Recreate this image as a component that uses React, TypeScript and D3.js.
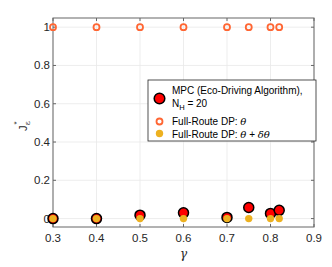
import React from "react";
import * as d3 from "d3";

const gammas = [0.3, 0.4, 0.5, 0.6, 0.7, 0.75, 0.8, 0.82];
const mpcValues = [0.0, 0.0, 0.018, 0.03, 0.006, 0.058, 0.027, 0.043];
const dpTheta = [1, 1, 1, 1, 1, 1, 1, 1];
const dpThetaDelta = [0, 0, 0, 0, 0, 0, 0, 0];
const xTicks = [0.3, 0.4, 0.5, 0.6, 0.7, 0.8, 0.9];
const yTicks = [0, 0.2, 0.4, 0.6, 0.8, 1];

const W = 332, H = 267;
const L = 53, R = 314, T = 18, B = 227;

export default function App() {
  const x = d3.scaleLinear().domain([0.3, 0.9]).range([L, R]);
  const y = d3.scaleLinear().domain([-0.044, 1.048]).range([B, T]);
  const font = "Liberation Sans, Arial, Helvetica, sans-serif";
  const axisColor = "#666";
  const red = "#ff0000";
  const orange = "#ff6633";
  const yellow = "#edb120";
  return (
    <svg width={W} height={H} style={{ position: "absolute", left: 0, top: 0, background: "#fff" }}>
      <rect x={0} y={0} width={W} height={H} fill="#fff" />
      {/* grid */}
      {xTicks.map((t) => (
        <line key={"gx" + t} x1={x(t)} x2={x(t)} y1={T} y2={B} stroke="#e8e8e8" strokeWidth={0.8} />
      ))}
      {yTicks.map((t) => (
        <line key={"gy" + t} x1={L} x2={R} y1={y(t)} y2={y(t)} stroke="#e8e8e8" strokeWidth={0.8} />
      ))}
      {/* box */}
      <rect x={L} y={T} width={R - L} height={B - T} fill="none" stroke={axisColor} strokeWidth={1} />
      {/* ticks */}
      {xTicks.map((t) => (
        <g key={"tx" + t}>
          <line x1={x(t)} x2={x(t)} y1={B} y2={B - 3} stroke={axisColor} />
          <line x1={x(t)} x2={x(t)} y1={T} y2={T + 3} stroke={axisColor} />
          <text x={x(t)} y={B + 15} textAnchor="middle" fontFamily={font} fontSize={11.5} fill="#262626">
            {t.toFixed(1)}
          </text>
        </g>
      ))}
      {yTicks.map((t) => (
        <g key={"ty" + t}>
          <line x1={L} x2={L + 3} y1={y(t)} y2={y(t)} stroke={axisColor} />
          <line x1={R} x2={R - 3} y1={y(t)} y2={y(t)} stroke={axisColor} />
          <text x={L - 3} y={y(t) + 4} textAnchor="end" fontFamily={font} fontSize={11.5} fill="#262626">
            {t === 0 || t === 1 ? String(t) : t.toFixed(1)}
          </text>
        </g>
      ))}
      {/* axis labels */}
      <text x={(L + R) / 2} y={258} textAnchor="middle" fontFamily="DejaVu Serif, serif" fontStyle="italic" fontSize={12} fill="#262626">
        γ
      </text>
      <g transform={`translate(27,126) rotate(-90)`}>
        <text x={0} y={0} textAnchor="middle" fontFamily={font} fontSize={11} fill="#262626">
          J
          <tspan fontSize={8} dx={1} dy={-8}>*</tspan>
          <tspan fontSize={8} dx={-4} dy={11} fontFamily="DejaVu Serif, serif">ε</tspan>
        </text>
      </g>
      {/* MPC markers */}
      {gammas.map((g, i) => (
        <circle key={"m" + i} cx={x(g)} cy={y(mpcValues[i])} r={5} fill={red} stroke="#000" strokeWidth={1.5} />
      ))}
      {/* DP theta */}
      {gammas.map((g, i) => (
        <circle key={"d" + i} cx={x(g)} cy={y(dpTheta[i])} r={3} fill="none" stroke={orange} strokeWidth={1.8} />
      ))}
      {/* DP theta + delta */}
      {gammas.map((g, i) => (
        <circle key={"e" + i} cx={x(g)} cy={y(dpThetaDelta[i])} r={3.7} fill={yellow} />
      ))}
      {/* legend */}
      <rect x={148} y={80} width={168} height={61} fill="#fff" stroke="#262626" strokeWidth={0.8} />
      <circle cx={159.5} cy={98.5} r={5.3} fill={red} stroke="#000" strokeWidth={1.5} />
      <text x={172} y={93.5} fontFamily={font} fontSize={10} fill="#000">MPC (Eco-Driving Algorithm),</text>
      <text x={172} y={107} fontFamily={font} fontSize={10} fill="#000">
        N<tspan fontSize={7.5} dy={3}>H</tspan>
        <tspan dy={-3}> = 20</tspan>
      </text>
      <circle cx={159.5} cy={121.5} r={3} fill="none" stroke={orange} strokeWidth={1.8} />
      <text x={172} y={125} fontFamily={font} fontSize={10} fill="#000">
        Full-Route DP: <tspan fontFamily="DejaVu Serif, serif" fontStyle="italic">θ</tspan>
      </text>
      <circle cx={159.5} cy={133.5} r={3.7} fill={yellow} />
      <text x={172} y={137.5} fontFamily={font} fontSize={10} fill="#000">
        Full-Route DP: <tspan fontFamily="DejaVu Serif, serif" fontStyle="italic">θ</tspan> + <tspan fontFamily="DejaVu Serif, serif" fontStyle="italic">δθ</tspan>
      </text>
    </svg>
  );
}
